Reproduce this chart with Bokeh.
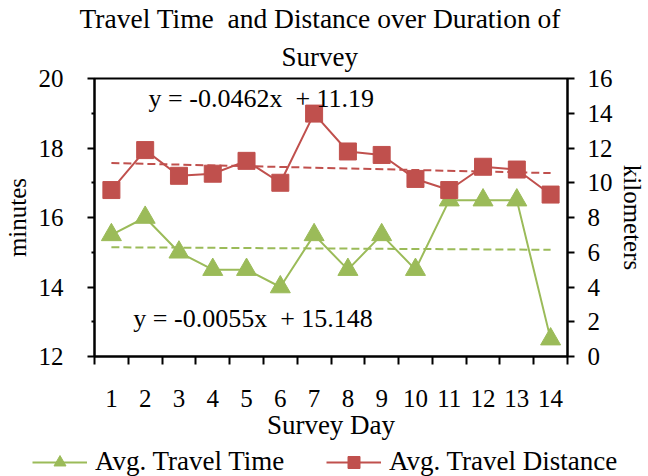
import numpy as np
from bokeh.plotting import figure
from bokeh.layouts import column
from bokeh.models import (Range1d, LinearAxis, FixedTicker, Legend, LegendItem,
                          Label, Title)
from bokeh.embed import file_html
from bokeh.resources import INLINE

# ---- data ----
days = [1, 2, 3, 4, 5, 6, 7, 8, 9, 10, 11, 12, 13, 14]
day_labels = ["1", "2", "3", "4", "5", "6", "7", "8", "9", "10", "11", "12", "13", "14"]
travel_time = [15.5, 16.0, 15.0, 14.5, 14.5, 14.0, 15.5, 14.5, 15.5, 14.5, 16.5, 16.5, 16.5, 12.5]
travel_dist = [9.58, 11.88, 10.40, 10.52, 11.26, 10.0, 13.98, 11.80, 11.60, 10.22, 9.58, 10.92, 10.76, 9.32]
eq_dist = "y = -0.0462x\u00a0 + 11.19"
eq_time = "y = -0.0055x\u00a0 + 15.148"
title_1 = "Travel Time\u00a0 and Distance over Duration of"
title_2 = "Survey"
series_names = ["Avg. Travel Time", "Avg. Travel Distance"]
minutes_ticks = [12, 14, 16, 18, 20]
minutes_minor = [13, 15, 17, 19]
km_ticks = [0, 2, 4, 6, 8, 10, 12, 14, 16]

GREEN = "#9BBB59"
RED = "#C0504D"
FONT = "Liberation Serif"
FS = "25px"

p = figure(frame_width=473, frame_height=278, output_backend="svg", toolbar_location=None,
           title=None, x_range=Range1d(0.5, 14.5), y_range=Range1d(12, 20),
           min_border_left=89, min_border_right=86, min_border_top=77,
           min_border_bottom=91, background_fill_color="white",
           border_fill_color="white")
if "frame_align" in p.properties():
    p.frame_align = False
p.extra_y_ranges = {"km": Range1d(0, 16)}
p.xgrid.visible = False
p.ygrid.visible = False
p.outline_line_color = "black"
p.outline_line_width = 2

# titles (closest to frame first)
p.add_layout(Title(text=title_2, align="left", offset=187, text_font=FONT,
                   text_font_size="27px", text_font_style="normal",
                   text_color="black", standoff=13), "above")
p.add_layout(Title(text=title_1, align="left", offset=-15,
                   text_font=FONT, text_font_size="27.5px", text_font_style="normal",
                   text_color="black", standoff=0), "above")

def style_axis(ax):
    ax.axis_line_color = "black"
    ax.axis_line_width = 2
    ax.major_tick_line_color = "black"
    ax.minor_tick_line_color = "black"
    ax.major_tick_line_width = 2
    ax.minor_tick_line_width = 2
    ax.major_tick_in = 0
    ax.minor_tick_in = 0
    ax.major_label_text_font = FONT
    ax.major_label_text_font_size = FS
    ax.major_label_text_color = "black"
    ax.axis_label_text_font = FONT
    ax.axis_label_text_font_size = FS
    ax.axis_label_text_font_style = "normal"
    ax.axis_label_text_color = "black"

# bottom axis
xa = p.xaxis[0]
style_axis(xa)
xa.ticker = FixedTicker(ticks=days, minor_ticks=[d - 0.5 for d in days] + [days[-1] + 0.5])
xa.major_label_overrides = {d: l for d, l in zip(days, day_labels)}
xa.major_tick_out = 0
xa.minor_tick_out = 8
xa.major_label_standoff = 25
xa.axis_label = "Survey Day"
xa.axis_label_text_font_size = "27px"
xa.axis_label_standoff = 0

# left axis
ya = p.yaxis[0]
style_axis(ya)
ya.ticker = FixedTicker(ticks=minutes_ticks, minor_ticks=minutes_minor)
ya.major_tick_out = 7
ya.minor_tick_out = 3
ya.major_label_standoff = 24
ya.axis_label = "minutes"
ya.axis_label_standoff = 5

# right axis
ra = LinearAxis(y_range_name="km")
style_axis(ra)
ra.ticker = FixedTicker(ticks=km_ticks, minor_ticks=[])
ra.major_tick_out = 7
ra.minor_tick_out = 0
ra.major_label_standoff = 13
ra.axis_label = "kilometers"
ra.axis_label_standoff = 3
p.add_layout(ra, "right")

# trend lines (least squares fits)
x = np.array(days, dtype=float)
mt, bt = np.polyfit(x, np.array(travel_time), 1)
md, bd = np.polyfit(x, np.array(travel_dist), 1)
xt = np.array([days[0], days[-1]], dtype=float)
p.line(xt, mt * xt + bt, line_color=GREEN, line_width=2, line_dash="8 4")
p.line(xt, md * xt + bd, line_color=RED, line_width=2, line_dash="8 4", y_range_name="km")

# series
p.line(days, travel_time, line_color=GREEN, line_width=2)
p.scatter(days, travel_time, marker="triangle", size=20, fill_color=GREEN, line_color=GREEN)
p.line(days, travel_dist, line_color=RED, line_width=2, y_range_name="km")
p.scatter(days, travel_dist, marker="square", size=17, fill_color=RED, line_color=RED,
          y_range_name="km")

# equation labels
p.add_layout(Label(x=2.1, y=19.42, text=eq_dist, text_font=FONT, text_font_size="26px",
                   text_baseline="middle", text_color="black"))
p.add_layout(Label(x=1.65, y=13.09, text=eq_time, text_font=FONT, text_font_size="26px",
                   text_baseline="middle", text_color="black"))

# ---- legend strip (separate figure below the chart; its ranges keep the
#      duplicated series out of view so only the legend shows) ----
q = figure(width=648, height=30, output_backend="svg", toolbar_location=None,
           title=None, x_axis_type=None, y_axis_type=None,
           x_range=Range1d(-100, -99), y_range=Range1d(-100, -99),
           min_border_left=0, min_border_right=0, min_border_top=0, min_border_bottom=0,
           outline_line_color=None, background_fill_color="white",
           border_fill_color="white")
if "frame_align" in q.properties():
    q.frame_align = False
q.xgrid.visible = False
q.ygrid.visible = False
gl = q.line(days, travel_time, line_color=GREEN, line_width=2)
gs = q.scatter(days, travel_time, marker="triangle", size=20, fill_color=GREEN,
               line_color=GREEN)
rl = q.line(days, travel_dist, line_color=RED, line_width=2)
rs = q.scatter(days, travel_dist, marker="square", size=17, fill_color=RED, line_color=RED)

common = dict(orientation="horizontal", label_text_font=FONT, label_text_font_size="27px",
              label_text_color="black", glyph_width=55, glyph_height=30,
              label_standoff=8, padding=0, margin=0, border_line_color=None,
              background_fill_alpha=0)
leg1 = Legend(items=[LegendItem(label=series_names[0], renderers=[gl, gs])],
              location=(32, 0), **common)
leg2 = Legend(items=[LegendItem(label=series_names[1], renderers=[rl, rs])],
              location=(326, 0), **common)
q.add_layout(leg1)
q.add_layout(leg2)

layout = column(p, q, spacing=0)
open("out.html", "w").write(file_html(layout, INLINE))
